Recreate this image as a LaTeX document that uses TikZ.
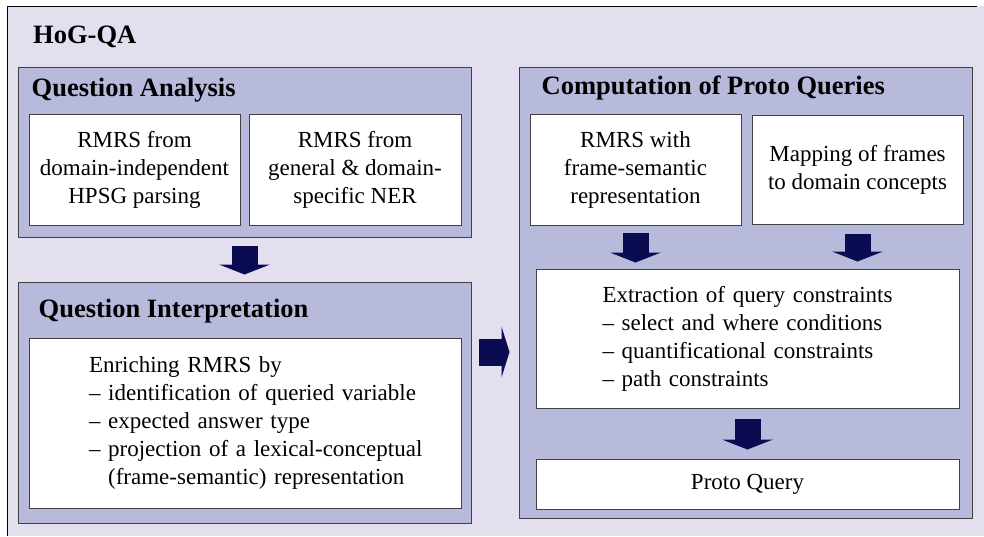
\documentclass[tikz,border=0pt]{standalone}
\usepackage{fontspec}
\setmainfont{Liberation Serif}
\usetikzlibrary{arrows.meta,positioning}
\usepackage{xcolor}
\definecolor{bglilac}{HTML}{E4DFEE}
\definecolor{panelblue}{HTML}{B8BADC}
\definecolor{arrownavy}{HTML}{0B0B52}

\begin{document}
\begin{tikzpicture}[x=1pt,y=-1pt,
				panel/.style={draw=black!75,line width=1pt,fill=panelblue,inner sep=0pt},
				card/.style={draw=black!75,line width=1pt,fill=white,inner sep=0pt,align=center,font=\rmfamily\fontsize{23}{28}\selectfont},
				heading/.style={anchor=base west,inner sep=0pt,font=\rmfamily\fontsize{26.5}{30}\selectfont\bfseries},
				blockarrow/.style={arrownavy,line width=26pt,-{Triangle[width=51pt,length=#1,line width=0pt]}},
				blockarrow/.default=10pt
				]
				
				% Cornice esterna
				\useasboundingbox (0,0) rectangle (984,536);
				\fill[bglilac] (7,6) rectangle (984,536);
				\draw[line width=1pt] (7,536) -- (7,6) -- (977,6);
				\node[heading] (hog) at (33,43) {HoG-QA};
				
				% Question Analysis
				\node[panel,minimum width=453,minimum height=170] (qa) at (244.5,152) {};
				\node[heading] (qatitle) at ([shift={(14,30)}]qa.north west) {Question Analysis};
				\node[card,minimum width=211,minimum height=111] (hpsg) at (134.5,169.5) {RMRS from\\domain-independent\\HPSG parsing};
				\node[card,minimum width=212,minimum height=111,right=8pt of hpsg] (ner) {RMRS from\\general \& domain-\\specific NER};
				
				% Question Interpretation
				\node[panel,minimum width=453,minimum height=241] (qi) at (244.5,402.5) {};
				\node[heading] (qititle) at ([shift={(21,36)}]qi.north west) {Question Interpretation};
				\node[card,minimum width=432,minimum height=170,text width=380,align=left] (enrich) at (245,423) {\leftskip=34pt
					Enriching RMRS by\\
					– identification of queried variable\\
					– expected answer type\\
					– projection of a lexical-conceptual\\
					\hphantom{– }(frame-semantic) representation\par};
				
				% Computation of Proto Queries
				\node[panel,minimum width=453,minimum height=451] (cpq) at (745.5,292.5) {};
				\node[heading] (cpqtitle) at ([shift={(23,28)}]cpq.north west) {Computation of Proto Queries};
				\node[card,minimum width=211,minimum height=111] (frames) at (635.5,169.5) {RMRS with\\frame-semantic\\representation};
				\node[card,minimum width=211,minimum height=109,right=10pt of frames] (mapping) {Mapping of frames\\to domain concepts};
				\node[card,minimum width=423,minimum height=139,text width=340,align=left] (extract) at (747.5,338.5) {\leftskip=25pt
					Extraction of query constraints\\
					– select and where conditions\\
					– quantificational constraints\\
					– path constraints\par};
				\node[card,minimum width=423,minimum height=50,below=50pt of extract] (proto) {Proto Query};
				
				% Frecce
				\draw[blockarrow,shorten <=8pt,shorten >=7pt] (qa.south) -- (qi.north);
				\draw[blockarrow=8pt,line width=27pt,shorten <=7pt,shorten >=9pt] (qi.east |- 0,352) -- (cpq.west |- 0,352);
				\draw[blockarrow,shorten <=7pt,shorten >=6pt] (frames.south) -- (frames.south |- extract.north);
				\draw[blockarrow,shorten <=9pt,shorten >=7pt] (mapping.south) -- (mapping.south |- extract.north);
				\draw[blockarrow,shorten <=10pt,shorten >=9pt] (extract.south) -- (proto.north);
				
			\end{tikzpicture}
\end{document}
